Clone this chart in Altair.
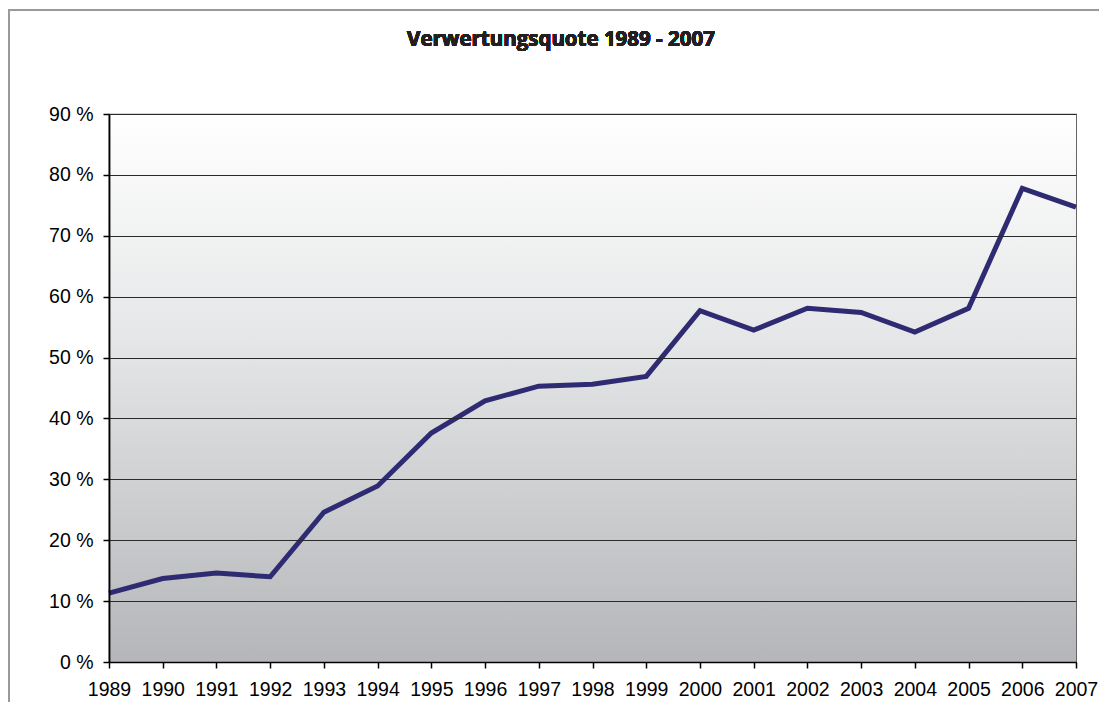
import altair as alt
import pandas as pd

years = [1989, 1990, 1991, 1992, 1993, 1994, 1995, 1996, 1997, 1998,
         1999, 2000, 2001, 2002, 2003, 2004, 2005, 2006, 2007]
quote = [11.3, 13.7, 14.6, 14.0, 24.6, 28.9, 37.6, 42.9, 45.3, 45.6,
         46.9, 57.7, 54.5, 58.1, 57.4, 54.2, 58.1, 77.8, 74.7]
y_ticks = [0, 10, 20, 30, 40, 50, 60, 70, 80, 90]
title_text = "Verwertungsquote 1989 - 2007"

df = pd.DataFrame({"Jahr": years, "Quote": quote})

x_enc = alt.X(
    "Jahr:Q",
    scale=alt.Scale(domain=[years[0], years[-1]], nice=False, zero=False),
    axis=alt.Axis(values=years, format="d", title=None, grid=False,
                  labelFont="Liberation Sans", labelFontSize=19.5, labelColor="#000",
                  labelPadding=12, tickSize=6, tickColor="#000", tickWidth=1.5,
                  domainColor="#000", domainWidth=1.5, labelFlush=False, zindex=1),
)
y_enc = alt.Y(
    "Quote:Q",
    scale=alt.Scale(domain=[0, 90], nice=False),
    axis=alt.Axis(values=y_ticks, title=None, grid=True, gridColor="#2a2a2a",
                  gridWidth=1.2, labelExpr="datum.value + ' %'",
                  labelFont="Liberation Sans", labelFontSize=19.5, labelColor="#000",
                  labelPadding=10, tickSize=6, tickColor="#000", tickWidth=1.5,
                  domainColor="#000", domainWidth=1.8, zindex=1),
)

bg = alt.Chart(df).mark_rect(
    fill=alt.LinearGradient(
        gradient="linear", x1=0, x2=0, y1=0, y2=1,
        stops=[alt.GradientStop(color="#ffffff", offset=0),
               alt.GradientStop(color="#e6e7e8", offset=0.4),
               alt.GradientStop(color="#b4b6b9", offset=1)],
    ),
).encode(
    x=alt.datum(years[0]), x2=alt.datum(years[-1]),
    y=alt.datum(0), y2=alt.datum(90),
)

line = alt.Chart(df).mark_line(color="#2f2b73", strokeWidth=5, strokeJoin="miter").encode(
    x=x_enc, y=y_enc
)

title = alt.Chart(df).mark_text(
    text=title_text, font="Open Sans", fontSize=20.5, fontWeight="bold",
    color="#231f20", align="center", baseline="middle",
).encode(x=alt.value(452), y=alt.value(-74))

border_left = alt.Chart(df).mark_rule(color="#9a9a9a", strokeWidth=2).encode(
    x=alt.value(-100), y=alt.value(-104), y2=alt.value(600)
)
border_top = alt.Chart(df).mark_rule(color="#9a9a9a", strokeWidth=2).encode(
    x=alt.value(-101), x2=alt.value(1000), y=alt.value(-104)
)

chart = alt.layer(bg, line, title, border_left, border_top).properties(
    width=967, height=548,
    autosize=alt.AutoSizeParams(type="none"),
    padding={"left": 101, "top": 106, "right": 23, "bottom": 40},
).configure_view(stroke="#555", strokeWidth=1.2)

chart.save("out.html", embed_options={"renderer": "svg", "actions": False})
